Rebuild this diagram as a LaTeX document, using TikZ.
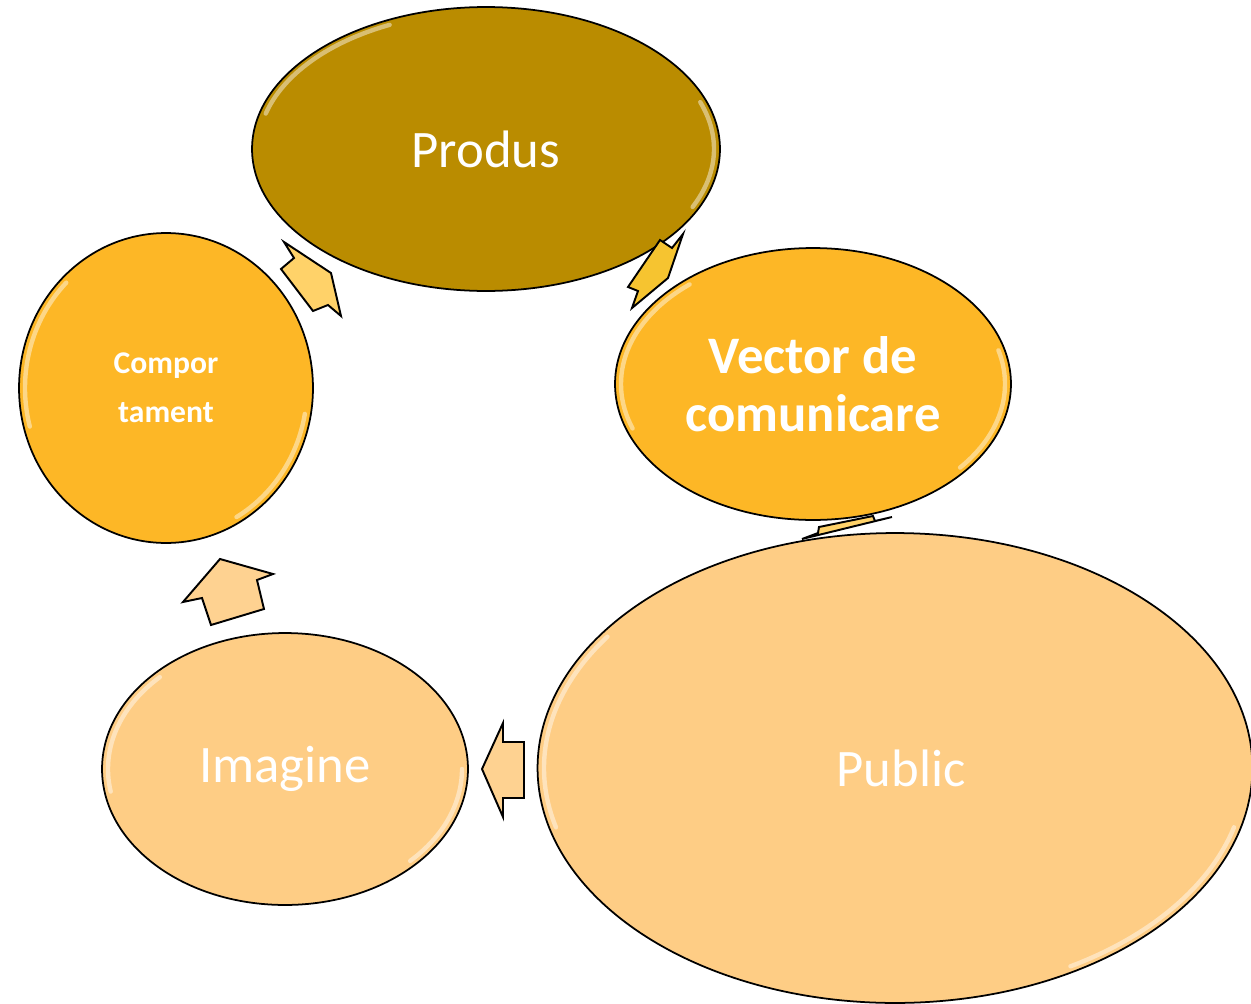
\documentclass[tikz,border=0pt]{standalone}
\usepackage{fontspec}
\setmainfont{Carlito}
\usetikzlibrary{calc,shapes.geometric}
\definecolor{produsgold}{RGB}{186,140,0}
\definecolor{vectorgold}{RGB}{253,183,38}
\definecolor{publicpeach}{RGB}{254,205,133}
\definecolor{arrowgold}{RGB}{246,196,48}
\definecolor{arrowyellow}{RGB}{255,210,105}
\definecolor{arrowpeach}{RGB}{254,210,145}
\def\glossarc[#1](#2)(#3:#4:#5:#6){\draw[#1] ($(#2)+({#5*cos(#3)},{#6*sin(#3)})$) arc (#3:#4:#5 and #6);}

\begin{document}
\begin{tikzpicture}[x=0.02cm, y=-0.02cm,
	bubble/.style={ellipse, draw=black, line width=1pt, inner sep=0pt, text=white, align=center},
	bigtext/.style={font=\fontsize{30}{33}\selectfont},
	boldtext/.style={font=\fontsize{30}{33}\selectfont\bfseries},
	cyclearrow/.style={draw=black, line width=1.1pt, line join=miter},
	gloss/.style={white, opacity=0.45, line width=2.5pt, line cap=round}]
			%%%%% START %%%%%
			\useasboundingbox (0,0) rectangle (1251,1004);
			
			\node[bubble, bigtext, fill=produsgold, minimum width=9.36cm, minimum height=5.68cm] (produs) at (486,149) {Produs};
			\node[bubble, boldtext, fill=vectorgold, minimum width=7.92cm, minimum height=5.44cm] (vector) at (813,384) {Vector de\\comunicare};
			\node[bubble, fill=publicpeach, minimum width=14.3cm, minimum height=9.4cm, bigtext] (public) at (895,768) {\hspace{0.24cm}Public};
			\node[bubble, bigtext, fill=publicpeach, minimum width=7.32cm, minimum height=5.44cm] (imagine) at (285,769) {Imagine};
			\node[bubble, fill=vectorgold, minimum width=5.88cm, minimum height=6.2cm, font=\fontsize{18}{27.8}\selectfont\bfseries] (comport) at (166,388) {Compor\\tament};
			
			\glossarc[gloss](produs)(195:245:228:137)
			\glossarc[gloss](produs)(-20:25:228:137)
			\glossarc[gloss](vector)(160:230:192:130)
			\glossarc[gloss](vector)(-15:40:192:130)
			\glossarc[gloss](comport)(165:225:141:149)
			\glossarc[gloss](comport)(10:60:141:149)
			\glossarc[gloss](imagine)(170:225:177:130)
			\glossarc[gloss](imagine)(0:45:177:130)
			\glossarc[gloss](public)(165:215:351:229)
			\glossarc[gloss](public)(15:60:351:229)
			
			\draw[cyclearrow, fill=arrowyellow] (284,242) -- (294,258) -- (281,269) -- (313,311) -- (328,305) -- (341,316) -- (331,273) -- cycle;
			\draw[cyclearrow, fill=arrowgold] (683,234) -- (668,278) -- (632,308) -- (638,291) -- (628,287) -- (660,240) -- (672,248) -- cycle;
			\draw[cyclearrow, fill=arrowyellow] (819,527) -- (873,516) -- (875,521) -- (892,517) -- (802,539) -- (818,533) -- cycle;
			\draw[cyclearrow, fill=arrowpeach] (482,769) -- (503,723) -- (503,742) -- (524,742) -- (524,798) -- (503,798) -- (503,817) -- cycle;
			\draw[cyclearrow, fill=arrowpeach] (220,559) -- (273,574) -- (257,580) -- (264,609) -- (211,625) -- (202,598) -- (183,602) -- cycle;
			
			%%%%% END %%%%%
\end{tikzpicture}
\end{document}
